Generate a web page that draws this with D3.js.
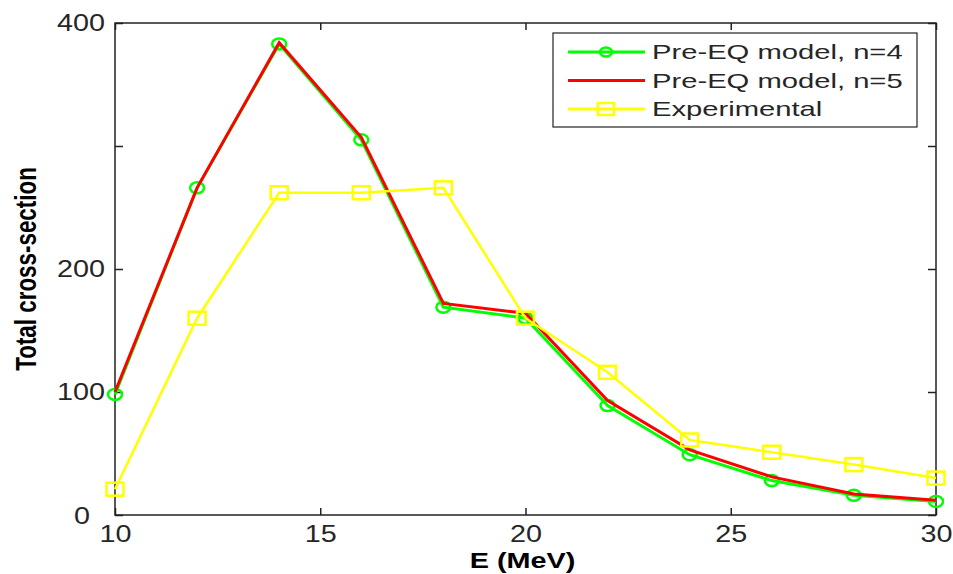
<!DOCTYPE html>
<html>
<head>
<meta charset="utf-8">
<script src="https://cdn.jsdelivr.net/npm/d3@7"></script>
<style>
  body { margin: 0; background: #fff; }
  text { font-family: "Liberation Sans", Arial, sans-serif; fill: #262626; }
</style>
</head>
<body>
<script>
// data
const energies = [10, 12, 14, 16, 18, 20, 22, 24, 26, 28, 30]
const preEqN4 = [98, 266, 383, 305, 169, 160, 89, 49, 28, 16, 11]
const preEqN5 = [100, 266, 384, 307, 172, 164, 93, 53, 31, 17, 12]
const experimental = [21, 160, 262, 262, 266, 160, 116, 61, 51, 41, 30]

const xTicks = [10, 15, 20, 25, 30]
const yTicks = [0, 100, 200, 300, 400]
const yTickLabels = ['0', '100', '200', '', '400']

const width = 953
const height = 574

const svg = d3.select('body')
  .append('svg')
  .attr('width', width)
  .attr('height', height)

const x = d3.scaleLinear().domain([10, 30]).range([115, 936])
const y = d3.scaleLinear().domain([0, 400]).range([515, 23])

// axes, ticks pointing inward
const bottom = svg.append('g')
  .attr('transform', `translate(0,${y(0)})`)
  .call(d3.axisBottom(x).tickValues(xTicks).tickSizeInner(-7).tickSizeOuter(0).tickPadding(11))

const left = svg.append('g')
  .attr('transform', `translate(${x(10)},0)`)
  .call(d3.axisLeft(y).tickValues(yTicks).tickFormat((d, i) => yTickLabels[i])
    .tickSizeInner(-8).tickSizeOuter(0).tickPadding(10))

svg.append('g')
  .attr('transform', `translate(0,${y(400)})`)
  .call(d3.axisTop(x).tickValues(xTicks).tickFormat('').tickSizeInner(-7).tickSizeOuter(0))

svg.append('g')
  .attr('transform', `translate(${x(30)},0)`)
  .call(d3.axisRight(y).tickValues(yTicks).tickFormat('').tickSizeInner(-8).tickSizeOuter(0))

svg.selectAll('.domain').remove()
svg.selectAll('.tick line').attr('stroke', '#222').attr('stroke-width', 1.5)

bottom.selectAll('text')
  .attr('font-size', 23)
  .attr('fill', '#2a2a2a')
  .attr('font-family', null)
  .attr('transform', function () {
    const yy = d3.select(this).attr('y')
    return `translate(0,${yy}) scale(1.25,1)`
  })
  .attr('y', 0)

left.selectAll('text')
  .attr('font-size', 23)
  .attr('fill', '#2a2a2a')
  .attr('font-family', null)
  .attr('transform', d => d === 0 ? 'translate(-25,1) scale(1.25,1)' : 'translate(-10,0) scale(1.25,1)')
  .attr('x', 0)

// plot frame
svg.append('rect')
  .attr('x', x(10)).attr('y', y(400))
  .attr('width', x(30) - x(10)).attr('height', y(0) - y(400))
  .attr('fill', 'none')
  .attr('stroke', '#222')
  .attr('stroke-width', 1.5)

// series
const line = d3.line()
  .x((d, i) => x(energies[i]))
  .y(d => y(d))

svg.append('path')
  .datum(preEqN4)
  .attr('d', line)
  .attr('fill', 'none')
  .attr('stroke', '#00ff00')
  .attr('stroke-width', 3)

svg.append('g')
  .selectAll('ellipse')
  .data(preEqN4)
  .join('ellipse')
  .attr('cx', (d, i) => x(energies[i]))
  .attr('cy', d => y(d))
  .attr('rx', 7)
  .attr('ry', 5.5)
  .attr('fill', 'none')
  .attr('stroke', '#00ff00')
  .attr('stroke-width', 2.5)

svg.append('path')
  .datum(preEqN5)
  .attr('d', line)
  .attr('fill', 'none')
  .attr('stroke', '#ff0000')
  .attr('stroke-width', 3)

svg.append('path')
  .datum(experimental)
  .attr('d', line)
  .attr('fill', 'none')
  .attr('stroke', '#ffff00')
  .attr('stroke-width', 2.5)

svg.append('g')
  .selectAll('rect')
  .data(experimental)
  .join('rect')
  .attr('x', (d, i) => x(energies[i]) - 8.5)
  .attr('y', d => y(d) - 6.5)
  .attr('width', 17)
  .attr('height', 13)
  .attr('fill', 'none')
  .attr('stroke', '#ffff00')
  .attr('stroke-width', 2.5)

// axis titles
svg.append('text')
  .attr('transform', `translate(${(x(10) + x(30)) / 2 - 3},568) scale(1.31,1)`)
  .attr('text-anchor', 'middle')
  .attr('font-size', 22)
  .attr('font-weight', 'bold')
  .style('fill', '#000')
  .text('E (MeV)')

svg.append('text')
  .attr('transform', `translate(36,${(y(0) + y(400)) / 2}) rotate(-90) scale(1,1.32)`)
  .attr('text-anchor', 'middle')
  .attr('font-size', 22.4)
  .attr('font-weight', 'bold')
  .style('fill', '#000')
  .text('Total cross-section')

// legend
const legendItems = [
  { name: 'Pre-EQ model, n=4', color: '#00ff00', marker: 'circle' },
  { name: 'Pre-EQ model, n=5', color: '#ff0000', marker: 'none' },
  { name: 'Experimental', color: '#ffff00', marker: 'square' }
]

const legend = svg.append('g').attr('transform', 'translate(553,33)')
legend.append('rect')
  .attr('width', 364)
  .attr('height', 94)
  .attr('fill', '#fff')
  .attr('stroke', '#222')
  .attr('stroke-width', 1.2)

const rows = legend.selectAll('g.row')
  .data(legendItems)
  .join('g')
  .attr('class', 'row')
  .attr('transform', (d, i) => `translate(0,${19 + i * 28.5})`)

rows.append('line')
  .attr('x1', 15).attr('x2', 92)
  .attr('stroke', d => d.color)
  .attr('stroke-width', 3)

rows.filter(d => d.marker === 'circle')
  .append('ellipse')
  .attr('cx', 53).attr('rx', 6).attr('ry', 4.5)
  .attr('fill', 'none')
  .attr('stroke', d => d.color)
  .attr('stroke-width', 2.5)

rows.filter(d => d.marker === 'square')
  .append('rect')
  .attr('x', 45).attr('y', -6).attr('width', 16).attr('height', 12)
  .attr('fill', 'none')
  .attr('stroke', d => d.color)
  .attr('stroke-width', 2.5)

rows.append('text')
  .attr('transform', 'translate(99,7) scale(1.46,1)')
  .attr('font-size', 20)
  .text(d => d.name)
</script>
</body>
</html>
